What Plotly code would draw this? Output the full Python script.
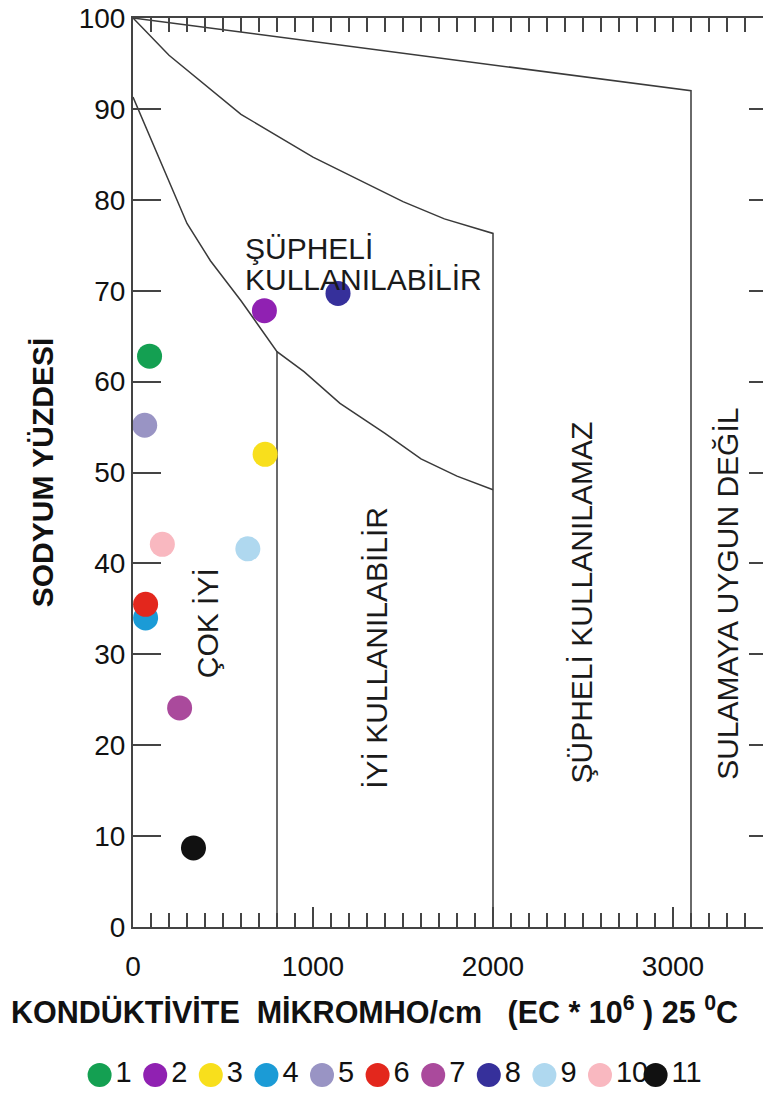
import plotly.graph_objects as go

# ---------------- data ----------------
samples = ["1", "2", "3", "4", "5", "6", "7", "8", "9", "10", "11"]
ec_values = [92, 730, 734, 70, 65, 70, 259, 1139, 638, 163, 336]          # EC micromho/cm
na_percent = [62.8, 67.8, 52.0, 34.0, 55.2, 35.5, 24.1, 69.7, 41.6, 42.1, 8.7]
colors = ["#14a052", "#9021b2", "#f8df1c", "#1b9bd6", "#9994c4", "#e3271d",
          "#aa4a9c", "#36309b", "#afd8ef", "#f9b8c0", "#111111"]

# class boundaries (Wilcox diagram)
bound_a_x = [0, 3100, 3100]
bound_a_y = [100, 92, 0]
bound_b_x = [0, 200, 600, 1000, 1500, 1730, 2000, 2000]
bound_b_y = [100, 95.9, 89.4, 84.7, 79.8, 77.9, 76.3, 0]
bound_c_x = [0, 150, 300, 430, 600, 800, 950, 1150, 1400, 1600, 1800, 2000]
bound_c_y = [91.3, 84.3, 77.4, 73.3, 68.9, 63.3, 61.1, 57.6, 54.3, 51.5, 49.6, 48.1]
bound_d_x = [800, 800]
bound_d_y = [63.3, 0]

x_ticks = [0, 1000, 2000, 3000]
y_ticks = [0, 10, 20, 30, 40, 50, 60, 70, 80, 90, 100]

zone_texts = ["ÇOK İYİ", "İYİ KULLANILABİLİR", "ŞÜPHELİ KULLANILAMAZ", "SULAMAYA UYGUN DEĞİL"]
zone_x = [416, 1355, 2489, 3303]
zone_y = [33.4, 30.7, 35.7, 36.6]
upper_texts = ["ŞÜPHELİ", "KULLANILABİLİR"]
upper_x = [611, 611]
upper_y = [74.6, 71.2]

FONT = "Liberation Sans, Arial, Helvetica, sans-serif"
LINE = "#3a3a3a"
AX = "#444444"

fig = go.Figure()

for bx, by in [(bound_a_x, bound_a_y), (bound_b_x, bound_b_y),
               (bound_c_x, bound_c_y), (bound_d_x, bound_d_y)]:
    fig.add_trace(go.Scatter(x=bx, y=by, mode="lines",
                             line=dict(color=LINE, width=1.5),
                             showlegend=False, hoverinfo="skip",
                             xaxis="x", yaxis="y"))

fig.add_trace(go.Scatter(x=ec_values, y=na_percent, mode="markers",
                         marker=dict(color=colors, size=25, line=dict(width=0)),
                         text=samples, showlegend=False,
                         xaxis="x", yaxis="y"))

# legend row (sample key)
fig.add_trace(go.Scatter(x=samples, y=[0] * len(samples), mode="markers+text",
                         marker=dict(color=colors, size=24, line=dict(width=0)),
                         text=samples, textposition="middle right",
                         textfont=dict(family=FONT, size=29, color="#111111"),
                         showlegend=False, hoverinfo="skip",
                         xaxis="x2", yaxis="y2", cliponaxis=False))

# hidden traces to activate overlay axes
fig.add_trace(go.Scatter(x=[None], y=[None], mode="lines", xaxis="x3", yaxis="y", showlegend=False))
fig.add_trace(go.Scatter(x=[None], y=[None], mode="lines", xaxis="x", yaxis="y3", showlegend=False))

W, H = 763, 1104
ML, MR, MT, MB = 10, 0, 18, 10
pw = W - ML - MR
ph = H - MT - MB
x_dom0 = (133 - ML) / pw
y_dom0 = (H - MB - 927) / ph
leg_left = 71.8
leg_right = 71.8 + 11 * 55.6

annotations = []
for t, x, y in zip(zone_texts, zone_x, zone_y):
    annotations.append(dict(text=t, x=x, y=y, xref="x", yref="y", showarrow=False,
                            textangle=-90, font=dict(family=FONT, size=30, color="#1a1a1a"),
                            xanchor="center", yanchor="middle"))
for t, x, y in zip(upper_texts, upper_x, upper_y):
    annotations.append(dict(text=t, x=x, y=y, xref="x", yref="y", showarrow=False,
                            font=dict(family=FONT, size=30, color="#1a1a1a"),
                            xanchor="left", yanchor="middle"))
annotations.append(dict(
    text="<b>KONDÜKTİVİTE\u00a0\u00a0MİKROMHO/cm\u00a0\u00a0\u00a0(EC * 10<sup>6</sup> ) 25 <sup>0</sup>C</b>",
    x=(374 - ML) / pw, y=(H - MB - 1010) / ph, xref="paper", yref="paper",
    showarrow=False, font=dict(family=FONT, size=30.5, color="#111111"),
    xanchor="center", yanchor="middle"))

fig.update_layout(
    template="none",
    width=W, height=H,
    margin=dict(l=ML, r=MR, t=MT, b=MB, pad=0),
    paper_bgcolor="white", plot_bgcolor="white",
    font=dict(family=FONT, color="#111111"),
    showlegend=False,
    annotations=annotations,
    xaxis=dict(domain=[x_dom0, 1], range=[0, 3500], anchor="y",
               tickvals=x_ticks, ticks="inside", ticklen=20, tickwidth=1.5, tickcolor=AX,
               minor=dict(dtick=100, ticks="inside", ticklen=14, tickwidth=1.5, tickcolor=AX),
               showline=True, linecolor=AX, linewidth=2, mirror=False,
               showgrid=False, zeroline=False, automargin=False,
               tickfont=dict(family=FONT, size=28, color="#111111"),
               ticklabelstandoff=13),
    yaxis=dict(domain=[y_dom0, 1], range=[0, 100], anchor="x",
               tickvals=y_ticks, ticks="inside", ticklen=28, tickwidth=1.5, tickcolor=AX,
               showline=True, linecolor=AX, linewidth=2,
               showgrid=False, zeroline=False, automargin=False,
               tickfont=dict(family=FONT, size=28, color="#111111"),
               title=dict(text="<b>SODYUM YÜZDESİ</b>",
                          font=dict(family=FONT, size=30, color="#111111"),
                          standoff=16)),
    xaxis3=dict(overlaying="x", side="top", anchor="y", range=[0, 3500],
                dtick=100, tick0=0, ticks="inside", ticklen=14, tickwidth=1.5, tickcolor=AX,
                showticklabels=False, showline=True, linecolor=AX, linewidth=2,
                showgrid=False, zeroline=False, automargin=False),
    yaxis3=dict(overlaying="y", side="right", anchor="x", range=[0, 100],
                dtick=10, tick0=0, ticks="inside", ticklen=14, tickwidth=1.5, tickcolor=AX,
                showticklabels=False, showline=False,
                showgrid=False, zeroline=False, automargin=False),
    xaxis2=dict(domain=[(leg_left - ML) / pw, (leg_right - ML) / pw], anchor="y2",
                type="category", range=[-0.5, 10.5], visible=False, automargin=False),
    yaxis2=dict(domain=[0, 38 / ph], anchor="x2", range=[-1, 1], visible=False,
                automargin=False),
)

fig.write_html("out.html",
               config={"displayModeBar": False},
               post_script="document.body.style.margin='0';document.body.style.overflow='hidden';")
